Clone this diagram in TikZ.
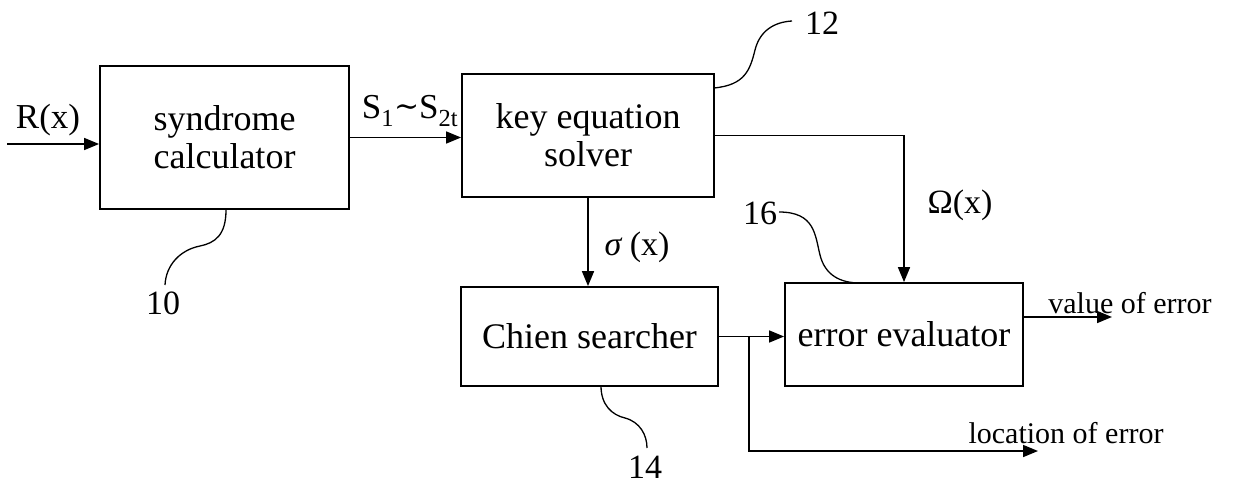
\documentclass[tikz,border=0pt]{standalone}
\usepackage{fontspec}
\setmainfont{Liberation Serif}
\newfontfamily\dvser{DejaVu Serif}
\usetikzlibrary{arrows.meta,calc}
\begin{document}
\begin{tikzpicture}[x=1pt,y=-1pt,
  box/.style={draw,line width=1.8pt,inner sep=0pt,align=center,font=\fontsize{36}{40}\selectfont},
  conn/.style={line width=1.6pt},
  arr/.style={conn,-{Triangle[length=15pt,width=12pt]}},
  lead/.style={line width=1.3pt},
  lbl/.style={inner sep=0pt,font=\fontsize{34}{38}\selectfont},
  small/.style={inner sep=0pt,font=\fontsize{30}{34}\selectfont}]
\useasboundingbox (0,0) rectangle (1247,484);
\node[box,minimum width=249pt,minimum height=143pt] (syn) at (224.5,137.5) {syndrome\\[-2pt]calculator};
\node[box,minimum width=252pt,minimum height=123pt] (key) at (588,135.5) {key equation\\[-2pt]solver};
\node[box,minimum width=257pt,minimum height=99pt] (chien) at (589.5,336.5) {Chien searcher};
\node[box,minimum width=238pt,minimum height=103pt] (err) at (904,334.5) {error evaluator};
% inputs / outputs
\coordinate (rin) at (7,144);
\draw[arr] (rin) -- (rin -| syn.west);
\node[lbl,font=\fontsize{35}{38}\selectfont] (rlab) at (48,120) {R(x)};
\draw[arr] (syn.east) -- (syn.east -| key.west);
\node[lbl,font=\fontsize{35}{38}\selectfont] (slab) at (410,111) {S\textsubscript{1}{\dvser\fontsize{30}{30}\selectfont\raisebox{2pt}{∼}}S\textsubscript{2t}};
\draw[arr] (key.east) -| (err.north);
\node[lbl] (olab) at (960,205) {Ω(x)};
\draw[arr] (key.south) -- (key.south |- chien.north);
\node[lbl] (sglab) at (637,247) {{\itshape σ} (x)};
\draw[arr] (chien.east) -- (chien.east -| err.west);
\coordinate (br) at (749,336.5);
\coordinate (lend) at (1038,451);
\draw[arr] (br) |- (lend);
\node[small] (llab) at (1066,433) {location of error};
\coordinate (vend) at (1112,317);
\draw[arr] (vend -| err.east) -- (vend);
\node[small] (vlab) at (1130,303) {value of error};
% reference numerals
\node[lbl] (n12) at (822,23) {12};
\node[lbl] (n10) at (163,303) {10};
\node[lbl] (n14) at (645,467) {14};
\node[lbl] (n16) at (760,213) {16};
\coordinate (a12) at (714,88);
\coordinate (b12) at (792,21);
\draw[lead] (a12) .. controls (745,85) and (750,70) .. (755,50) .. controls (760,30) and (775,22) .. (b12);
\coordinate (a10) at (226,210);
\coordinate (b10) at (165,285);
\draw[lead] (a10) .. controls (226,235) and (215,243) .. (200,246) .. controls (180,250) and (166,265) .. (b10);
\coordinate (a14) at (601,386);
\coordinate (b14) at (647,448);
\draw[lead] (a14) .. controls (601,405) and (612,415) .. (625,418) .. controls (640,422) and (647,435) .. (b14);
\coordinate (a16) at (860,283);
\coordinate (b16) at (779,212);
\draw[lead] (b16) .. controls (815,212) and (815,235) .. (820,255) .. controls (825,275) and (840,283) .. (a16);
\end{tikzpicture}
\end{document}
